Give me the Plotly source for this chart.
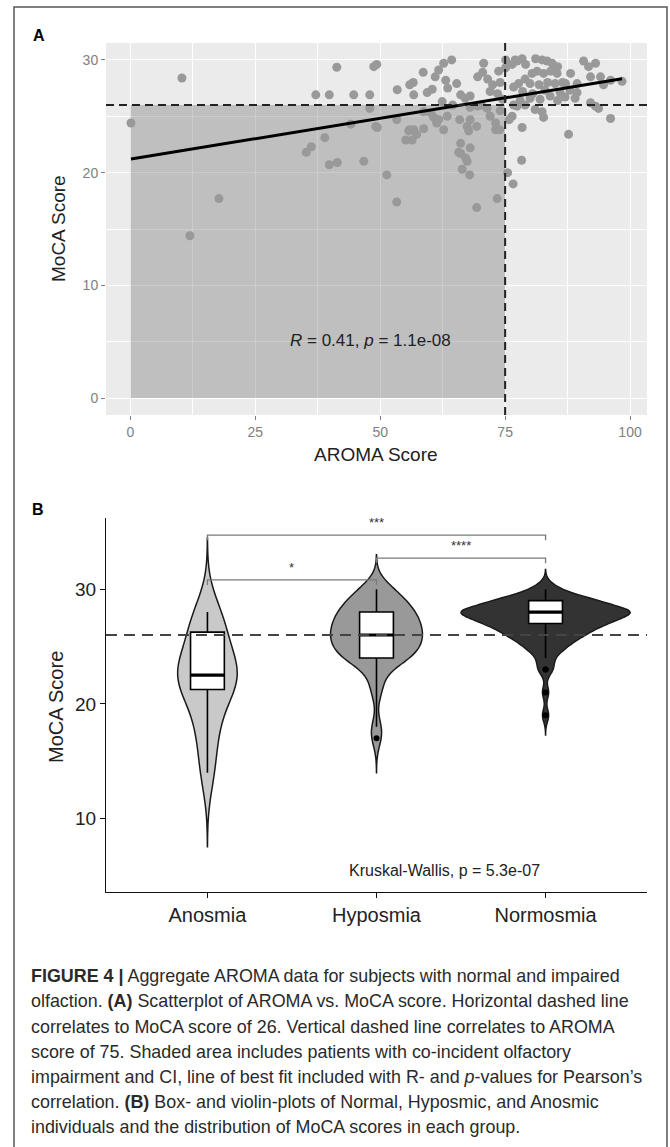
import numpy as np
import plotly.graph_objects as go

W, H = 670, 1147

# ---------------- Panel A data ----------------
aroma = [0.1, 10.3, 11.9, 17.7,
         35.2, 36.2, 37.1, 38.9, 39.8, 39.8, 41.3, 41.4, 44.1, 44.7, 46.7, 47.9, 47.9, 48.7, 49.3, 49.1, 49.4,
         51.3, 53.3, 53.4, 53.3, 55.1, 55.9, 57.3, 58.7, 55.9, 56.6, 56.7, 58.6, 59.4, 60.4, 61.7, 62.7, 64.3,
         62.4, 61.3, 62.7, 65.3, 65.9, 67.4, 69.3, 67.7, 66.1, 67.4, 66.4, 67.9, 69.3, 73.4, 70.7, 73.1, 63.1,
         66.1, 67.0, 68.0, 69.5, 70.5, 71.5, 72.5, 73.7, 68.0, 69.5, 71.4, 70.2, 68.0, 66.1, 68.0, 60.7, 61.7,
         63.4, 58.7, 60.1, 56.7, 55.7, 56.4, 73.1, 73.9, 65.7, 67.1, 72.0, 74.0, 74.5, 73.5, 72.0, 64.5, 63.5,
         74.0, 61.0,
         75.1, 77.0, 77.4, 78.4, 79.1, 81.1, 82.4, 83.4, 84.4, 76.4, 75.1, 90.7, 91.7, 93.1, 85.5,
         80.4, 81.4, 82.7, 84.1, 85.4, 88.1,
         80.0, 81.8, 83.5, 85.0, 86.5, 76.7, 77.7, 87.1, 89.4, 92.1, 94.1, 94.7, 96.1, 98.4, 79.0,
         89.4, 78.5, 80.5, 83.0, 86.0, 88.0,
         78.0, 80.0, 82.0, 84.0, 85.5, 87.0, 89.0, 76.7, 77.4, 79.0, 92.1, 93.1, 93.7, 81.0,
         82.4, 82.7, 76.4, 96.1, 75.8, 78.4, 87.7, 78.3, 75.5, 76.6]
moca = [24.4, 28.4, 14.4, 17.7,
        21.8, 22.3, 26.9, 23.1, 26.9, 20.7, 29.35, 20.9, 24.3, 26.9, 21.0, 26.9, 25.7, 29.4, 29.6, 24.1, 24.0,
        19.8, 17.4, 27.35, 24.7, 22.9, 23.8, 23.4, 23.9, 27.8, 28.0, 26.9, 28.9, 27.1, 27.4, 29.1, 29.7, 30.0,
        26.3, 24.4, 23.8, 27.9, 24.7, 24.1, 24.1, 23.7, 21.7, 21.0, 20.3, 19.8, 16.9, 17.7, 29.7, 23.8, 28.2,
        26.9, 26.6, 26.8, 28.5, 28.9, 28.3, 27.8, 29.0, 25.8, 25.9, 25.7, 26.0, 24.7, 22.6, 22.2, 24.9, 24.7,
        25.0, 25.4, 25.3, 23.8, 23.7, 22.9, 24.4, 23.8, 21.8, 21.3, 25.0, 25.5, 26.5, 27.0, 27.2, 26.0, 27.5,
        28.0, 28.5,
        30.0, 30.0, 29.9, 30.1, 29.6, 30.1, 30.0, 29.9, 29.7, 29.6, 29.3, 29.9, 29.4, 29.7, 29.4,
        28.8, 29.0, 28.8, 29.0, 28.8, 28.8,
        27.9, 27.8, 28.0, 27.9, 28.0, 27.6, 27.9, 27.9, 27.9, 28.5, 28.5, 27.8, 28.2, 28.1, 28.3,
        27.1, 27.2, 27.0, 27.3, 27.1, 27.3,
        26.4, 26.6, 26.5, 26.8, 26.4, 26.7, 26.6, 26.0, 25.9, 26.0, 26.2, 25.9, 25.7, 25.6,
        25.4, 24.9, 25.0, 24.8, 24.7, 24.0, 23.4, 21.1, 20.0, 19.0]
fit_intercept = 21.2
fit_slope = 0.0724
moca_cutoff = 26
aroma_cutoff = 75
shade_aroma = [0, 75]
shade_moca = [0, 26]
corr_text = "<i>R</i> = 0.41, <i>p</i> = 1.1e-08"
corr_pos = [48, 5.1]
a_xticks = [0, 25, 50, 75, 100]
a_yticks = [0, 10, 20, 30]

# ---------------- Panel B data ----------------
groups = ["Anosmia", "Hyposmia", "Normosmia"]
group_pos = [1, 2, 3]
anosmia_levels = [14, 17, 19, 21, 22, 23, 24, 26, 27, 28]
anosmia_counts = [1, 1, 1, 1, 2, 2, 1, 1, 1, 1]
hyposmia_levels = [17, 18, 21, 22, 23, 24, 25, 26, 27, 28, 29, 30]
hyposmia_counts = [1, 1, 1, 1, 1, 6, 6, 7, 6, 6, 4, 3]
normosmia_levels = [19, 21, 23, 24, 25, 26, 27, 28, 29, 30]
normosmia_counts = [1, 1, 2, 2, 5, 9, 14, 22, 12, 3]
bandwidths = [2.15, 1.0, 0.57]
violin_fill = ["#c9c9c9", "#999999", "#333333"]
box_q1 = [21.25, 24, 27]
box_median = [22.5, 26, 28]
box_q3 = [26.25, 28, 29]
box_low = [14, 18, 24]
box_high = [28, 30, 30]
outlier_pos = [2, 3, 3, 3, 3]
outlier_val = [17, 23, 23, 21, 19]
bracket_from = [1, 2, 1]
bracket_to = [2, 3, 3]
bracket_y = [30.8, 32.7, 34.7]
bracket_labels = ["*", "****", "***"]
kw_text = "Kruskal-Wallis, p = 5.3e-07"
kw_pos = [2.4, 5.5]
b_yticks = [10, 20, 30]

caption_lines = [
    "<b>FIGURE 4 |</b> Aggregate AROMA data for subjects with normal and impaired",
    "olfaction. <b>(A)</b> Scatterplot of AROMA vs. MoCA score. Horizontal dashed line",
    "correlates to MoCA score of 26. Vertical dashed line correlates to AROMA",
    "score of 75. Shaded area includes patients with co-incident olfactory",
    "impairment and CI, line of best fit included with R- and <i>p</i>-values for Pearson\u2019s",
    "correlation. <b>(B)</b> Box- and violin-plots of Normal, Hyposmic, and Anosmic",
    "individuals and the distribution of MoCA scores in each group.",
]

# ---------------- layout helpers ----------------
def px_x(px):
    return px / W

def px_y(py):
    return 1 - py / H

FONT = "Liberation Sans, Arial, sans-serif"
A_DOM_X = [px_x(106), px_x(647)]
A_DOM_Y = [px_y(415), px_y(43)]
B_DOM_X = [px_x(106), px_x(647)]
B_DOM_Y = [px_y(892), px_y(518)]

fig = go.Figure()

# ---- Panel A ----
fig.add_trace(go.Scatter(x=aroma, y=moca, mode="markers",
                         marker=dict(size=9, color="#999999", line=dict(width=0)),
                         xaxis="x", yaxis="y", hoverinfo="skip", showlegend=False))
fx = np.array([min(aroma), max(aroma)])
fig.add_trace(go.Scatter(x=fx, y=fit_intercept + fit_slope * fx, mode="lines",
                         line=dict(color="black", width=3),
                         xaxis="x", yaxis="y", hoverinfo="skip", showlegend=False))

fig.add_shape(type="rect", xref="x", yref="y", x0=shade_aroma[0], x1=shade_aroma[1],
              y0=shade_moca[0], y1=shade_moca[1], fillcolor="rgba(120,120,120,0.38)",
              line=dict(width=0), layer="between")
fig.add_shape(type="line", xref="x domain", yref="y", x0=0, x1=1, y0=moca_cutoff, y1=moca_cutoff,
              line=dict(color="#222222", width=2, dash="8px,5px"), layer="above")
fig.add_shape(type="line", xref="x", yref="y domain", x0=aroma_cutoff, x1=aroma_cutoff, y0=0, y1=1,
              line=dict(color="#222222", width=2, dash="8px,5px"), layer="above")

# ---- Panel B ----
all_levels = [anosmia_levels, hyposmia_levels, normosmia_levels]
all_counts = [anosmia_counts, hyposmia_counts, normosmia_counts]
all_samples = [np.repeat(all_levels[i], all_counts[i]).astype(float) for i in range(3)]


def kde_peak(samples, bw):
    grid = np.linspace(samples.min() - 3 * bw, samples.max() + 3 * bw, 800)
    dens = np.exp(-0.5 * ((grid[:, None] - samples[None, :]) / bw) ** 2).sum(axis=1)
    return (dens / (len(samples) * bw * np.sqrt(2 * np.pi))).max()


# ggplot-style "area" scaling: widest violin spans 1 category unit
peaks = np.array([kde_peak(all_samples[i], bandwidths[i]) for i in range(3)])
violin_widths = 1.0 * peaks / peaks.max()

for i in range(3):
    samples = all_samples[i]
    bw = bandwidths[i]
    fig.add_trace(go.Violin(
        x=[group_pos[i]] * len(samples), y=samples, xaxis="x2", yaxis="y2", name=groups[i],
        width=float(violin_widths[i]), bandwidth=bw, spanmode="manual",
        span=[samples.min() - 3 * bw, samples.max() + 3 * bw],
        scalegroup=groups[i], scalemode="width",
        fillcolor=violin_fill[i], line=dict(color="#1a1a1a", width=1.5), opacity=1,
        points=False, box_visible=False, meanline_visible=False,
        hoverinfo="skip", showlegend=False))

box_width = 0.2
fig.add_trace(go.Box(x=group_pos, q1=box_q1, median=box_median, q3=box_q3,
                     lowerfence=box_low, upperfence=box_high, width=box_width,
                     whiskerwidth=0, fillcolor="white", line=dict(color="black", width=1.6),
                     xaxis="x2", yaxis="y2", hoverinfo="skip", showlegend=False, boxpoints=False))
for i in range(3):
    fig.add_trace(go.Scatter(x=[group_pos[i] - box_width / 2, group_pos[i] + box_width / 2],
                             y=[box_median[i], box_median[i]], mode="lines",
                             line=dict(color="black", width=3.2),
                             xaxis="x2", yaxis="y2", hoverinfo="skip", showlegend=False))
fig.add_trace(go.Scatter(x=outlier_pos, y=outlier_val, mode="markers",
                         marker=dict(size=6, color="black"),
                         xaxis="x2", yaxis="y2", hoverinfo="skip", showlegend=False))

tip = 0.45
for a, b, yv, lab in zip(bracket_from, bracket_to, bracket_y, bracket_labels):
    fig.add_trace(go.Scatter(x=[a, a, b, b], y=[yv - tip, yv, yv, yv - tip], mode="lines",
                             line=dict(color="#7a7a7a", width=1.3),
                             xaxis="x2", yaxis="y2", hoverinfo="skip", showlegend=False))
    fig.add_annotation(x=(a + b) / 2, y=yv + 1.1, xref="x2", yref="y2", text=lab,
                       showarrow=False, font=dict(family=FONT, size=13, color="#333333"),
                       yanchor="middle")

fig.add_shape(type="line", xref="x2 domain", yref="y2", x0=0, x1=1, y0=moca_cutoff, y1=moca_cutoff,
              line=dict(color="#444444", width=2, dash="11px,7px"), layer="above")

fig.add_annotation(x=kw_pos[0], y=kw_pos[1], xref="x2", yref="y2", text=kw_text, showarrow=False,
                   font=dict(family=FONT, size=16, color="#222222"))
fig.add_annotation(x=corr_pos[0], y=corr_pos[1], xref="x", yref="y", text=corr_text, showarrow=False,
                   font=dict(family=FONT, size=17, color="#222222"))

# ---- titles and labels ----
def ann(text, x, y, size, color="#222222", angle=0, xanchor="center"):
    fig.add_annotation(x=px_x(x), y=px_y(y), xref="paper", yref="paper", text=text,
                       showarrow=False, textangle=angle, xanchor=xanchor, yanchor="middle",
                       font=dict(family=FONT, size=size, color=color))

ann("<b>A</b>", 38.5, 35, 16, color="black")
ann("<b>B</b>", 38, 510, 16, color="black")
ann("MoCA Score", 58, 229, 19, angle=-90)
ann("AROMA Score", 376, 454, 19)
ann("MoCA Score", 56, 707, 20, angle=-90)

cap_y = [976, 1001, 1026.5, 1052, 1077, 1102, 1127]
for line, yy in zip(caption_lines, cap_y):
    ann(line, 28.5, yy, 17.9, color="#2a2a2a", xanchor="left")

# frame around whole figure
fig.add_shape(type="rect", xref="paper", yref="paper", x0=px_x(14), x1=px_x(667),
              y0=px_y(1160), y1=px_y(7), line=dict(color="#555555", width=1.5), layer="above")

fig.update_layout(
    width=W, height=H, margin=dict(l=0, r=0, t=0, b=0),
    paper_bgcolor="white", plot_bgcolor="white", showlegend=False,
    violinmode="overlay", boxmode="overlay",
    xaxis=dict(domain=A_DOM_X, anchor="y", range=[-4.9, 103.4], tickvals=a_xticks,
               showgrid=True, gridcolor="white", gridwidth=1.4, zeroline=False, showline=False,
               ticks="outside", ticklen=4, tickcolor="#808080", tickwidth=1.2,
               tickfont=dict(family=FONT, size=14, color="#808080"),
               minor=dict(tickvals=[12.5, 37.5, 62.5, 87.5], showgrid=True, gridcolor="white", gridwidth=0.7, ticks="")),
    yaxis=dict(domain=A_DOM_Y, anchor="x", range=[-1.5, 31.5], tickvals=a_yticks,
               showgrid=True, gridcolor="white", gridwidth=1.4, zeroline=False, showline=False,
               ticks="outside", ticklen=4, tickcolor="#808080", tickwidth=1.2,
               tickfont=dict(family=FONT, size=14, color="#808080"),
               minor=dict(tickvals=[5, 15, 25], showgrid=True, gridcolor="white", gridwidth=0.7, ticks="")),
    xaxis2=dict(domain=B_DOM_X, anchor="y2", range=[0.4, 3.6], tickvals=group_pos, ticktext=groups,
                showgrid=False, zeroline=False, showline=True, linecolor="#111111", linewidth=1.3,
                ticks="outside", ticklen=5, tickcolor="#111111", tickwidth=1.2,
                tickfont=dict(family=FONT, size=20, color="#222222")),
    yaxis2=dict(domain=B_DOM_Y, anchor="x2", range=[3.6, 36.2], tickvals=b_yticks,
                showgrid=False, zeroline=False, showline=True, linecolor="#111111", linewidth=1.3,
                ticks="outside", ticklen=5, tickcolor="#111111", tickwidth=1.2,
                tickfont=dict(family=FONT, size=19, color="#222222")),
)
# panel A background
fig.add_shape(type="rect", xref="x domain", yref="y domain", x0=0, x1=1, y0=0, y1=1,
              fillcolor="#ebebeb", line=dict(width=0), layer="below")

fig.write_html("out.html", config={"displayModeBar": False},
               post_script="document.body.style.margin='0px';")
